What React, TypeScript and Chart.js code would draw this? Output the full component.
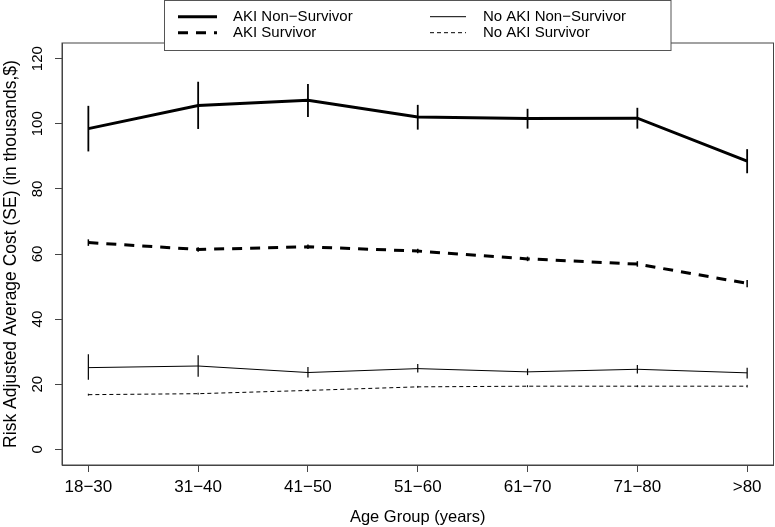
import React, { useEffect, useRef } from "react";
import { Chart, registerables } from "chart.js";

Chart.register(...registerables);

const categories = ["18−30", "31−40", "41−50", "51−60", "61−70", "71−80", ">80"];
const yTicks = [0, 20, 40, 60, 80, 100, 120];

const seriesNames = ["AKI Non−Survivor", "AKI Survivor", "No AKI Non−Survivor", "No AKI Survivor"];

const akiNonSurvivor = [98.5, 105.6, 107.2, 102.1, 101.6, 101.7, 88.5];
const akiNonSurvivorLo = [91.5, 98.4, 102.1, 98.2, 98.5, 98.5, 84.8];
const akiNonSurvivorHi = [105.5, 112.9, 112.2, 105.8, 104.6, 104.9, 92.2];

const akiSurvivor = [63.5, 61.4, 62.2, 60.9, 58.5, 56.9, 51.0];
const akiSurvivorLo = [62.5, 60.7, 61.5, 60.2, 57.8, 56.1, 49.8];
const akiSurvivorHi = [64.5, 62.1, 62.9, 61.6, 59.2, 57.8, 52.0];

const noAkiNonSurvivor = [25.1, 25.6, 23.6, 24.8, 23.8, 24.6, 23.5];
const noAkiNonSurvivorLo = [21.4, 22.3, 22.1, 23.6, 22.8, 23.3, 21.8];
const noAkiNonSurvivorHi = [29.2, 28.9, 25.3, 26.2, 24.8, 25.9, 25.1];

const noAkiSurvivor = [16.8, 17.1, 18.1, 19.2, 19.4, 19.4, 19.4];
const noAkiSurvivorLo = [16.5, 16.8, 17.8, 18.9, 19.1, 19.1, 19.0];
const noAkiSurvivorHi = [17.1, 17.4, 18.4, 19.5, 19.7, 19.7, 19.8];

const FONT = '"Liberation Sans", Arial, Helvetica, sans-serif';

const toPts = (arr: number[]) => arr.map((v, i) => ({ x: i, y: v }));

const errorBarPlugin = {
  id: "errorBars",
  afterDatasetsDraw(chart: any) {
    const ctx = chart.ctx;
    const xs = chart.scales.x;
    const ys = chart.scales.y;
    chart.data.datasets.forEach((ds: any) => {
      ctx.save();
      ctx.strokeStyle = ds.borderColor;
      ctx.lineWidth = ds.errWidth;
      ctx.setLineDash([]);
      ds.lo.forEach((lo: number, i: number) => {
        const x = xs.getPixelForValue(i);
        ctx.beginPath();
        ctx.moveTo(x, ys.getPixelForValue(lo));
        ctx.lineTo(x, ys.getPixelForValue(ds.hi[i]));
        ctx.stroke();
      });
      ctx.restore();
    });
  },
};

const frameAndLegendPlugin = {
  id: "frameLegend",
  afterDraw(chart: any) {
    const ctx = chart.ctx;
    const { left, right, top, bottom } = chart.chartArea;
    const ys = chart.scales.y;
    ctx.save();
    // plot box
    ctx.strokeStyle = "#444";
    ctx.lineWidth = 1;
    ctx.setLineDash([]);
    ctx.strokeRect(left, top, right - left, bottom - top);
    // y tick labels (rotated, R style)
    ctx.fillStyle = "#000";
    ctx.font = `15px ${FONT}`;
    ctx.textAlign = "center";
    ctx.textBaseline = "alphabetic";
    yTicks.forEach((v) => {
      const y = ys.getPixelForValue(v);
      ctx.save();
      ctx.translate(42, y);
      ctx.rotate(-Math.PI / 2);
      ctx.fillText(String(v), 0, 0);
      ctx.restore();
    });
    // legend
    const bx = 164.5, by = 0.5, bw = 506.5, bh = 50;
    ctx.fillStyle = "#fff";
    ctx.fillRect(bx, by, bw, bh);
    ctx.strokeStyle = "#555";
    ctx.lineWidth = 1;
    ctx.strokeRect(bx, by, bw, bh);
    const cols = [
      { lx0: 178, lx1: 217, tx: 233 },
      { lx0: 430, lx1: 466, tx: 483 },
    ];
    const rows = [16.7, 32.7];
    ctx.font = `15px ${FONT}`;
    ctx.textAlign = "left";
    ctx.textBaseline = "middle";
    chart.data.datasets.forEach((ds: any, k: number) => {
      const col = cols[Math.floor(k / 2)];
      const ry = rows[k % 2];
      ctx.strokeStyle = ds.borderColor;
      ctx.lineWidth = ds.borderWidth;
      ctx.setLineDash(ds.borderDash || []);
      ctx.beginPath();
      ctx.moveTo(col.lx0, ry);
      ctx.lineTo(col.lx1, ry);
      ctx.stroke();
      ctx.setLineDash([]);
      ctx.fillStyle = "#000";
      ctx.fillText(ds.label, col.tx, ry);
    });
    ctx.restore();
  },
};

export default function App() {
  const ref = useRef<HTMLCanvasElement | null>(null);
  useEffect(() => {
    if (!ref.current) return;
    const chart = new Chart(ref.current, {
      type: "line",
      data: {
        datasets: [
          {
            label: seriesNames[0],
            data: toPts(akiNonSurvivor),
            lo: akiNonSurvivorLo,
            hi: akiNonSurvivorHi,
            errWidth: 1.8,
            borderColor: "#000",
            borderWidth: 3,
            pointRadius: 0,
            tension: 0,
          } as any,
          {
            label: seriesNames[1],
            data: toPts(akiSurvivor),
            lo: akiSurvivorLo,
            hi: akiSurvivorHi,
            errWidth: 1.5,
            borderColor: "#000",
            borderWidth: 3,
            borderDash: [10, 8],
            pointRadius: 0,
            tension: 0,
          } as any,
          {
            label: seriesNames[2],
            data: toPts(noAkiNonSurvivor),
            lo: noAkiNonSurvivorLo,
            hi: noAkiNonSurvivorHi,
            errWidth: 1.2,
            borderColor: "#000",
            borderWidth: 1,
            pointRadius: 0,
            tension: 0,
          } as any,
          {
            label: seriesNames[3],
            data: toPts(noAkiSurvivor),
            lo: noAkiSurvivorLo,
            hi: noAkiSurvivorHi,
            errWidth: 1,
            borderColor: "#000",
            borderWidth: 1,
            borderDash: [4, 3],
            pointRadius: 0,
            tension: 0,
          } as any,
        ],
      },
      options: {
        animation: false,
        responsive: false,
        layout: { padding: { top: 43, right: 1.5, left: 0, bottom: 0 } },
        plugins: { legend: { display: false }, tooltip: { enabled: false } },
        scales: {
          x: {
            type: "linear",
            min: -0.24,
            max: 6.24,
            afterBuildTicks: (s: any) => {
              s.ticks = categories.map((_, i) => ({ value: i }));
            },
            afterFit: (s: any) => {
              s.height = 62;
            },
            ticks: {
              color: "#000",
              font: { family: FONT, size: 17 },
              padding: 5,
              maxRotation: 0,
              minRotation: 0,
              autoSkip: false,
              callback: (v: any) => categories[Math.round(Number(v))] ?? "",
            },
            grid: {
              drawOnChartArea: false,
              drawTicks: true,
              tickLength: 7,
              color: "#444",
              lineWidth: 1,
            },
            border: { display: true, color: "#444" },
            title: {
              display: true,
              text: "Age Group (years)",
              color: "#000",
              font: { family: FONT, size: 16.5 },
              padding: { top: 4, bottom: 0 },
            },
          },
          y: {
            type: "linear",
            min: -4.8,
            max: 124.8,
            afterBuildTicks: (s: any) => {
              s.ticks = yTicks.map((v) => ({ value: v }));
            },
            afterFit: (s: any) => {
              s.width = 62;
            },
            ticks: { display: false },
            grid: {
              drawOnChartArea: false,
              drawTicks: true,
              tickLength: 7,
              color: "#444",
              lineWidth: 1,
            },
            border: { display: true, color: "#444" },
            title: {
              display: true,
              text: "Risk Adjusted Average Cost (SE) (in thousands,$)",
              color: "#000",
              font: { family: FONT, size: 17.5 },
              padding: { top: 1, bottom: 0 },
            },
          },
        },
      } as any,
      plugins: [errorBarPlugin, frameAndLegendPlugin],
    });
    return () => chart.destroy();
  }, []);
  return (
    <div style={{ position: "fixed", left: 0, top: 0, width: 775, height: 527, background: "#fff" }}>
      <canvas ref={ref} width={775} height={527} style={{ width: 775, height: 527, display: "block" }} />
    </div>
  );
}
